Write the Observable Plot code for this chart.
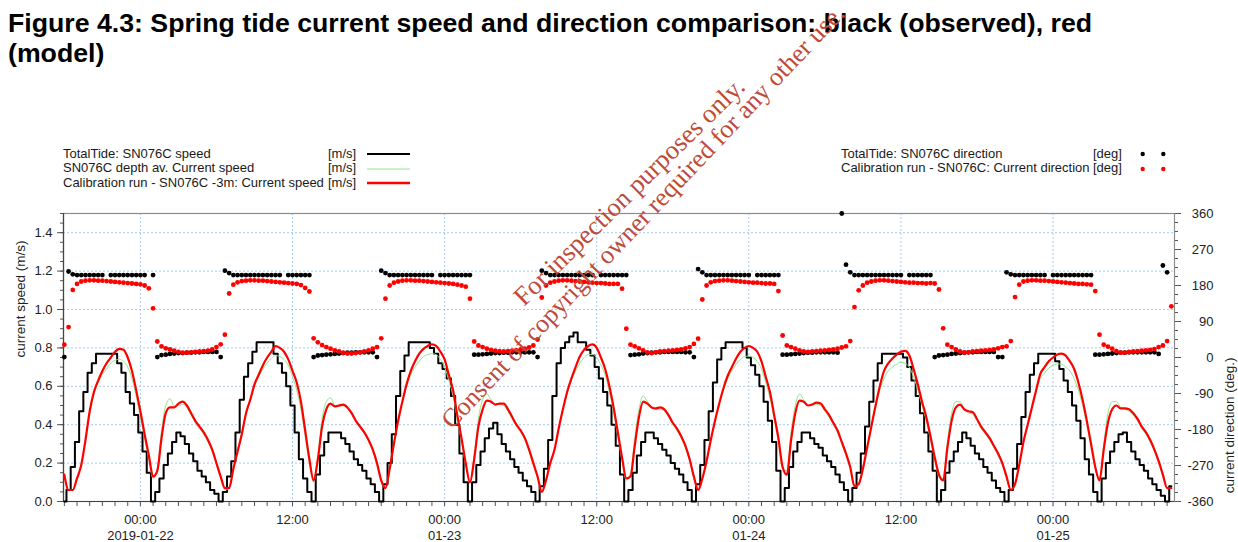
<!DOCTYPE html>
<html>
<head>
<meta charset="utf-8">
<script src="https://cdn.jsdelivr.net/npm/d3@7"></script>
<script src="https://cdn.jsdelivr.net/npm/@observablehq/plot@0.6"></script>
<style>
  html, body { margin: 0; padding: 0; background: #fff; }
  #wrap { position: relative; width: 1238px; height: 542px; overflow: hidden;
          font-family: "Liberation Sans", Arial, sans-serif; color: #1a1a1a; }
  .title { position: absolute; left: 8px; font-size: 26.7px; font-weight: bold;
           line-height: 27px; white-space: nowrap; color: #000; }
  #chart { position: absolute; left: 0; top: 140px; }
  .leg { position: absolute; font-size: 13px; line-height: 14.6px; white-space: nowrap; color: #1a1a1a; }
  #wm { position: absolute; left: 0; top: 0; pointer-events: none; }
</style>
</head>
<body>
<div id="wrap">
  <div class="title" style="top:10px">Figure 4.3: Spring tide current speed and direction comparison: black (observed), red</div>
  <div class="title" style="top:40px">(model)</div>
  <div id="chart"></div>
  <svg id="wm" width="1238" height="542">
    <text x="524" y="307" transform="rotate(-44.5 524 307)" font-family="Liberation Serif, Times New Roman, serif" font-size="26.5" fill="#c04a38">For inspection purposes only.</text>
    <text x="452" y="430" transform="rotate(-46.5 452 430)" font-family="Liberation Serif, Times New Roman, serif" font-size="26" fill="#c04a38">Consent of copyright owner required for any other use.</text>
  </svg>
</div>
<script>
// ---------------- DATA (20-minute samples from 2019-01-21 18:00 UTC) ----------------
const startTime = "2019-01-21T18:00:00Z";
const stepMinutes = 20;

// TotalTide: SN076C speed [m/s]
const speedObserved = [
  0.00,0.06,0.18,0.31,0.47,0.57,0.67,0.72,0.77,0.77,
  0.77,0.77,0.77,0.72,0.67,0.57,0.51,0.45,0.36,0.26,
  0.15,0.00,0.05,0.12,0.19,0.25,0.31,0.36,0.34,0.30,
  0.25,0.21,0.16,0.13,0.10,0.06,0.04,0.00,0.05,0.13,
  0.21,0.36,0.53,0.65,0.72,0.78,0.83,0.83,0.83,0.83,
  0.77,0.72,0.67,0.60,0.50,0.36,0.22,0.12,0.05,0.00,
  0.14,0.24,0.31,0.36,0.36,0.36,0.33,0.30,0.26,0.22,
  0.19,0.16,0.12,0.09,0.05,0.00,0.09,0.20,0.35,0.55,
  0.68,0.76,0.83,0.83,0.83,0.83,0.83,0.80,0.77,0.72,
  0.69,0.64,0.55,0.40,0.25,0.10,0.00,0.10,0.19,0.26,
  0.33,0.38,0.41,0.35,0.30,0.26,0.22,0.18,0.15,0.11,
  0.08,0.05,0.00,0.08,0.17,0.32,0.55,0.72,0.80,0.83,
  0.86,0.88,0.83,0.83,0.79,0.76,0.70,0.64,0.57,0.50,
  0.40,0.29,0.14,0.00,0.06,0.15,0.24,0.31,0.36,0.36,
  0.33,0.30,0.27,0.24,0.20,0.17,0.14,0.10,0.06,0.00,
  0.09,0.19,0.32,0.47,0.62,0.74,0.80,0.83,0.83,0.83,
  0.83,0.80,0.75,0.71,0.66,0.60,0.52,0.42,0.31,0.16,
  0.00,0.07,0.18,0.26,0.31,0.36,0.36,0.33,0.30,0.28,
  0.24,0.21,0.18,0.14,0.10,0.06,0.00,0.07,0.15,0.25,
  0.39,0.52,0.63,0.72,0.77,0.77,0.77,0.77,0.77,0.75,
  0.70,0.63,0.55,0.46,0.36,0.26,0.16,0.00,0.06,0.15,
  0.21,0.26,0.31,0.36,0.33,0.29,0.25,0.22,0.18,0.15,
  0.11,0.07,0.05,0.00,0.06,0.17,0.30,0.44,0.57,0.66,
  0.72,0.77,0.77,0.77,0.77,0.73,0.69,0.63,0.57,0.50,
  0.42,0.33,0.22,0.14,0.05,0.00,0.12,0.20,0.26,0.31,
  0.35,0.36,0.31,0.26,0.22,0.19,0.16,0.12,0.09,0.06,
  0.03,0.00,0.08
];

// SN076C depth av. Current speed [m/s]
const speedDepthAv = [
  0.13,0.06,0.06,0.12,0.19,0.32,0.46,0.56,0.62,0.66,0.69,0.72,0.735,0.74,0.73,0.70,0.64,0.55,0.44,0.33,0.22,0.12,
  0.17,0.37,0.50,0.535,0.50,0.50,0.505,0.49,0.45,0.41,0.38,0.35,0.31,0.26,0.19,0.12,0.06,
  0.07,0.17,0.27,0.36,0.46,0.53,0.60,0.65,0.69,0.72,0.745,0.76,0.755,0.74,0.71,0.65,0.58,0.48,0.34,0.20,0.10,
  0.24,0.43,0.52,0.54,0.50,0.495,0.50,0.485,0.455,0.415,0.385,0.355,0.315,0.265,0.19,0.10,
  0.07,0.17,0.30,0.42,0.52,0.60,0.66,0.70,0.73,0.755,0.765,0.77,0.765,0.74,0.70,0.63,0.55,0.43,0.31,0.19,0.10,
  0.24,0.43,0.53,0.56,0.53,0.505,0.505,0.50,0.47,0.43,0.39,0.36,0.32,0.26,0.19,0.12,0.05,
  0.11,0.20,0.27,0.38,0.48,0.56,0.63,0.68,0.72,0.75,0.765,0.765,0.75,0.71,0.66,0.57,0.46,0.34,0.21,0.11,
  0.15,0.33,0.48,0.55,0.52,0.49,0.48,0.48,0.47,0.44,0.40,0.37,0.33,0.28,0.21,0.12,
  0.06,0.12,0.21,0.32,0.42,0.51,0.58,0.64,0.68,0.715,0.74,0.755,0.757,0.75,0.73,0.69,0.62,0.54,0.43,0.31,0.17,
  0.16,0.36,0.50,0.56,0.53,0.50,0.50,0.505,0.50,0.47,0.44,0.40,0.36,0.30,0.24,0.17,0.08,
  0.09,0.17,0.28,0.39,0.49,0.58,0.64,0.68,0.70,0.715,0.725,0.72,0.70,0.65,0.58,0.50,0.42,0.32,0.22,0.13,
  0.12,0.31,0.46,0.52,0.52,0.48,0.46,0.455,0.42,0.38,0.35,0.32,0.28,0.24,0.19,0.12,0.06,
  0.09,0.19,0.31,0.40,0.49,0.57,0.64,0.67,0.695,0.71,0.717,0.715,0.70,0.68,0.64,0.58,0.50,0.40,0.28,0.17,
  0.12,0.30,0.46,0.52,0.52,0.49,0.48,0.47,0.45,0.42,0.38,0.35,0.31,0.26,0.20,0.13,0.07,0.07
];

// Calibration run - SN076C -3m: Current speed [m/s]
const speedModel = [
  0.14,0.06,0.06,0.12,0.19,0.32,0.47,0.57,0.63,0.68,0.72,0.75,0.78,0.795,0.79,0.75,0.68,0.58,0.47,0.35,0.24,0.13,
  0.16,0.33,0.46,0.49,0.49,0.51,0.52,0.50,0.46,0.42,0.39,0.36,0.32,0.27,0.20,0.13,0.07,
  0.07,0.17,0.26,0.35,0.46,0.53,0.61,0.66,0.71,0.75,0.78,0.81,0.80,0.78,0.74,0.68,0.62,0.52,0.37,0.22,0.11,
  0.22,0.39,0.48,0.51,0.495,0.50,0.505,0.49,0.46,0.42,0.39,0.36,0.32,0.27,0.20,0.11,
  0.07,0.17,0.30,0.42,0.52,0.61,0.68,0.73,0.77,0.795,0.81,0.818,0.81,0.78,0.74,0.66,0.58,0.45,0.33,0.20,0.10,
  0.22,0.39,0.48,0.525,0.52,0.505,0.51,0.51,0.48,0.44,0.40,0.37,0.33,0.27,0.20,0.13,0.05,
  0.11,0.20,0.27,0.38,0.48,0.57,0.64,0.70,0.755,0.79,0.81,0.818,0.80,0.75,0.69,0.60,0.49,0.36,0.23,0.12,
  0.13,0.29,0.44,0.52,0.51,0.49,0.485,0.49,0.48,0.45,0.41,0.38,0.34,0.29,0.22,0.13,
  0.06,0.12,0.21,0.32,0.42,0.51,0.59,0.655,0.70,0.745,0.78,0.80,0.81,0.80,0.78,0.73,0.65,0.57,0.45,0.33,0.18,
  0.14,0.32,0.46,0.525,0.52,0.50,0.505,0.515,0.51,0.48,0.45,0.41,0.37,0.31,0.25,0.18,0.08,
  0.09,0.17,0.28,0.39,0.50,0.60,0.68,0.72,0.745,0.765,0.78,0.785,0.76,0.69,0.61,0.52,0.44,0.34,0.23,0.14,
  0.11,0.28,0.42,0.49,0.505,0.48,0.47,0.465,0.43,0.39,0.36,0.33,0.29,0.25,0.20,0.13,0.06,
  0.09,0.19,0.31,0.40,0.49,0.58,0.665,0.70,0.73,0.75,0.765,0.77,0.76,0.73,0.69,0.62,0.53,0.42,0.30,0.18,
  0.11,0.27,0.41,0.48,0.50,0.485,0.485,0.48,0.46,0.43,0.39,0.36,0.32,0.27,0.21,0.14,0.07,0.07
];

// TotalTide: SN076C direction [deg] (null = no sample)
const dirObserved = [
  1,215,208,206,206,206,206,206,206,206,null,206,206,206,206,206,206,206,206,206,null,206,
  1,6,7,9,10,11,11,12,12,13,13,14,14,14,14,1,
  217,211,206,206,206,206,206,206,206,206,206,206,206,206,null,206,206,206,206,206,206,
  1,5,6,7,8,9,10,11,12,12,13,13,13,13,13,1,
  217,211,206,206,206,206,206,206,206,206,206,206,206,null,206,206,206,206,206,206,206,206,
  7,7,8,9,10,11,11,12,12,13,13,13,13,13,13,1,
  217,211,206,206,206,206,206,206,206,206,206,206,206,null,206,206,206,206,206,206,206,
  6,7,8,10,11,12,13,13,14,14,14,14,14,13,13,1,
  221,213,206,206,206,206,206,206,206,206,206,206,206,null,206,206,206,206,206,206,
  7,7,8,9,10,11,12,12,13,13,13,13,13,12,360,232,213,
  206,206,206,206,206,206,206,206,206,206,206,206,null,206,206,206,206,206,206,
  1,5,6,7,9,10,11,12,13,13,14,14,14,14,14,1,1,
  213,208,206,206,206,206,206,206,206,206,null,206,206,206,206,206,206,206,206,206,206,
  7,7,8,9,10,11,12,12,13,13,13,13,13,13,13,9,230,213
];

// Calibration run - SN076C: Current direction [deg]
const dirModel = [
  32,76,169,184,190,192,193,193,192,192,191,190,189,188,187,186,185,184,183,180,173,123,
  40,28,23,20,17,14,12,12,13,14,15,16,17,20,26,33,
  57,160,182,188,191,192,193,193,192,192,191,190,189,188,187,186,185,184,181,174,165,
  48,38,31,26,22,18,15,12,10,10,11,13,15,18,22,26,
  48,147,180,187,190,192,193,193,192,192,191,190,189,188,187,186,185,184,182,180,177,147,
  40,30,26,22,19,17,16,15,16,17,18,20,22,25,30,45,
  150,180,187,190,192,193,193,192,191,190,189,188,187,186,186,185,184,184,184,172,
  72,32,28,23,18,13,11,13,15,16,17,18,19,20,23,26,34,47,
  145,180,188,191,192,193,193,192,191,190,189,188,187,187,186,185,185,184,166,
  55,30,26,22,18,15,14,15,16,17,18,19,20,22,25,28,41,
  126,168,180,187,190,192,193,193,192,191,190,189,188,187,187,186,186,185,186,185,170,
  73,32,26,20,15,12,13,15,16,17,18,19,20,23,26,28,41,
  151,182,190,192,193,193,192,192,191,190,189,188,187,186,185,184,184,183,182,166,
  57,32,27,22,16,12,12,14,15,16,17,18,19,21,26,30,41,128
];

// Axis ticks / labels
const xDomain = ["2019-01-21T17:56:00Z", "2019-01-25T09:35:00Z"];
const xTickTimes = ["2019-01-22T00:00:00Z","2019-01-22T12:00:00Z","2019-01-23T00:00:00Z","2019-01-23T12:00:00Z",
                    "2019-01-24T00:00:00Z","2019-01-24T12:00:00Z","2019-01-25T00:00:00Z"];
const xTickLabels = ["00:00\n2019-01-22","12:00","00:00\n01-23","12:00","00:00\n01-24","12:00","00:00\n01-25"];
const speedTicks = [0, 0.2, 0.4, 0.6, 0.8, 1.0, 1.2, 1.4];
const dirTicks = [-360, -270, -180, -90, 0, 90, 180, 270, 360];

const legendLeft = [
  {name: "TotalTide: SN076C speed", unit: "[m/s]", color: "#000000", width: 2},
  {name: "SN076C depth av. Current speed", unit: "[m/s]", color: "#8fe68f", width: 1},
  {name: "Calibration run - SN076C -3m: Current speed", unit: "[m/s]", color: "#ff0000", width: 2.5}
];
const legendRight = [
  {name: "TotalTide: SN076C direction", unit: "[deg]", color: "#000000"},
  {name: "Calibration run - SN076C: Current direction", unit: "[deg]", color: "#ff0000"}
];

// ---------------- BUILD ----------------
const t0 = Date.parse(startTime);
const rows = speedObserved.map((v, i) => ({
  t: new Date(t0 + i * stepMinutes * 60000),
  obs: v,
  dav: speedDepthAv[i],
  mod: speedModel[i],
  dObs: dirObserved[i],
  dMod: dirModel[i]
}));
// secondary axis: -360..360 deg mapped onto 0..1.5 m/s
const dirToSpeed = d => (d + 360) * 1.5 / 720;

const xTicks = xTickTimes.map(s => new Date(s));
const xLabelMap = new Map(xTicks.map((d, i) => [+d, xTickLabels[i]]));
const domain = xDomain.map(s => new Date(s));
const hourTicks = d3.utcHour.range(domain[0], domain[1]);
const speedMinor = d3.range(0, 1.5001, 0.05);
const dirMinor = d3.range(-360, 360.1, 22.5).map(dirToSpeed);

const gridColor = "#a6cbef";
const axisColor = "#555";

const chart = Plot.plot({
  width: 1238,
  height: 402,
  marginLeft: 63,
  marginRight: 64,
  marginTop: 73,
  marginBottom: 41,
  style: {fontFamily: "'Liberation Sans', Arial, sans-serif", fontSize: "13px", color: "#1a1a1a", background: "transparent", overflow: "visible"},
  x: {type: "utc", domain},
  y: {domain: [0, 1.5]},
  marks: [
    Plot.ruleY(speedTicks.filter(d => d > 0), {stroke: gridColor, strokeDasharray: "2,2", strokeWidth: 1}),
    Plot.ruleX(xTicks, {stroke: gridColor, strokeDasharray: "2,2", strokeWidth: 1, insetBottom: -6}),
    Plot.frame({stroke: "#8c8c8c", strokeWidth: 1.2}),
    // left axis
    Plot.axisY(speedMinor, {anchor: "left", tickSize: 3, tickFormat: () => "", stroke: axisColor, label: null}),
    Plot.axisY(speedTicks, {anchor: "left", tickSize: 6, tickPadding: 5, tickFormat: d => d.toFixed(1), stroke: axisColor, fill: "#222", label: null}),
    // right axis
    Plot.axisY(dirMinor, {anchor: "right", tickSize: 3, tickFormat: () => "", stroke: axisColor, label: null}),
    Plot.axisY(dirTicks.map(dirToSpeed), {anchor: "right", tickSize: 6, tickFormat: () => "", stroke: axisColor, label: null}),
    Plot.text(dirTicks, {y: d => dirToSpeed(d), text: d => String(d), frameAnchor: "right", dx: 39, textAnchor: "end", fill: "#222", fontSize: 13}),
    // bottom axis
    Plot.axisX(hourTicks, {anchor: "bottom", tickSize: 5, tickFormat: () => "", stroke: axisColor, label: null}),
    Plot.axisX(xTicks, {anchor: "bottom", tickSize: 0, tickPadding: 12, tickFormat: d => xLabelMap.get(+d), lineHeight: 1.17, fill: "#222", label: null}),
    Plot.ruleY([0], {stroke: "#444", strokeWidth: 1.2}),
    Plot.ruleX([domain[0]], {stroke: "#444", strokeWidth: 1.2}),
    // axis titles
    Plot.text(["current speed (m/s)"], {frameAnchor: "left", dx: -43, rotate: -90, fill: "#222", fontSize: 13.5}),
    Plot.text(["current direction (deg.)"], {frameAnchor: "right", dx: 55, rotate: -90, fill: "#222", fontSize: 13.5}),
    // series
    Plot.line(rows, {x: "t", y: "obs", curve: "step", stroke: "#000", strokeWidth: 2}),
    Plot.line(rows, {x: "t", y: "dav", curve: "monotone-x", stroke: "#8fe68f", strokeWidth: 1}),
    Plot.line(rows, {x: "t", y: "mod", curve: "monotone-x", stroke: "#ff0000", strokeWidth: 2.2}),
    Plot.dot(rows.filter(d => d.dObs != null), {x: "t", y: d => dirToSpeed(d.dObs), r: 2.4, fill: "#000", stroke: "none"}),
    Plot.dot(rows.filter(d => d.dMod != null), {x: "t", y: d => dirToSpeed(d.dMod), r: 2.4, fill: "#ff0000", stroke: "none"})
  ]
});
document.getElementById("chart").appendChild(chart);

// ---------------- LEGENDS (HTML) ----------------
const wrap = document.getElementById("wrap");
legendLeft.forEach((L, i) => {
  const top = 146.7 + i * 14.6;
  const n = document.createElement("div");
  n.className = "leg"; n.style.left = "63px"; n.style.top = top + "px"; n.textContent = L.name;
  wrap.appendChild(n);
  const u = document.createElement("div");
  u.className = "leg"; u.style.left = "328px"; u.style.top = top + "px"; u.textContent = L.unit;
  wrap.appendChild(u);
  const s = document.createElementNS("http://www.w3.org/2000/svg", "svg");
  s.setAttribute("width", 46); s.setAttribute("height", 8);
  s.style.position = "absolute"; s.style.left = "366px"; s.style.top = (top + 3.3) + "px";
  const ln = document.createElementNS("http://www.w3.org/2000/svg", "line");
  ln.setAttribute("x1", 1); ln.setAttribute("x2", 44); ln.setAttribute("y1", 4); ln.setAttribute("y2", 4);
  ln.setAttribute("stroke", L.color); ln.setAttribute("stroke-width", L.width);
  s.appendChild(ln); wrap.appendChild(s);
});
legendRight.forEach((L, i) => {
  const top = 146.7 + i * 14.6;
  const n = document.createElement("div");
  n.className = "leg"; n.style.left = "841px"; n.style.top = top + "px"; n.textContent = L.name;
  wrap.appendChild(n);
  const u = document.createElement("div");
  u.className = "leg"; u.style.left = "1093px"; u.style.top = top + "px"; u.textContent = L.unit;
  wrap.appendChild(u);
  const s = document.createElementNS("http://www.w3.org/2000/svg", "svg");
  s.setAttribute("width", 30); s.setAttribute("height", 8);
  s.style.position = "absolute"; s.style.left = "1138px"; s.style.top = (top + 3.3) + "px";
  [4.7, 25.3].forEach(cx => {
    const c = document.createElementNS("http://www.w3.org/2000/svg", "circle");
    c.setAttribute("cx", cx); c.setAttribute("cy", 4); c.setAttribute("r", 2.2); c.setAttribute("fill", L.color);
    s.appendChild(c);
  });
  wrap.appendChild(s);
});
// keep the watermark on top
wrap.appendChild(document.getElementById("wm"));
</script>
</body>
</html>
